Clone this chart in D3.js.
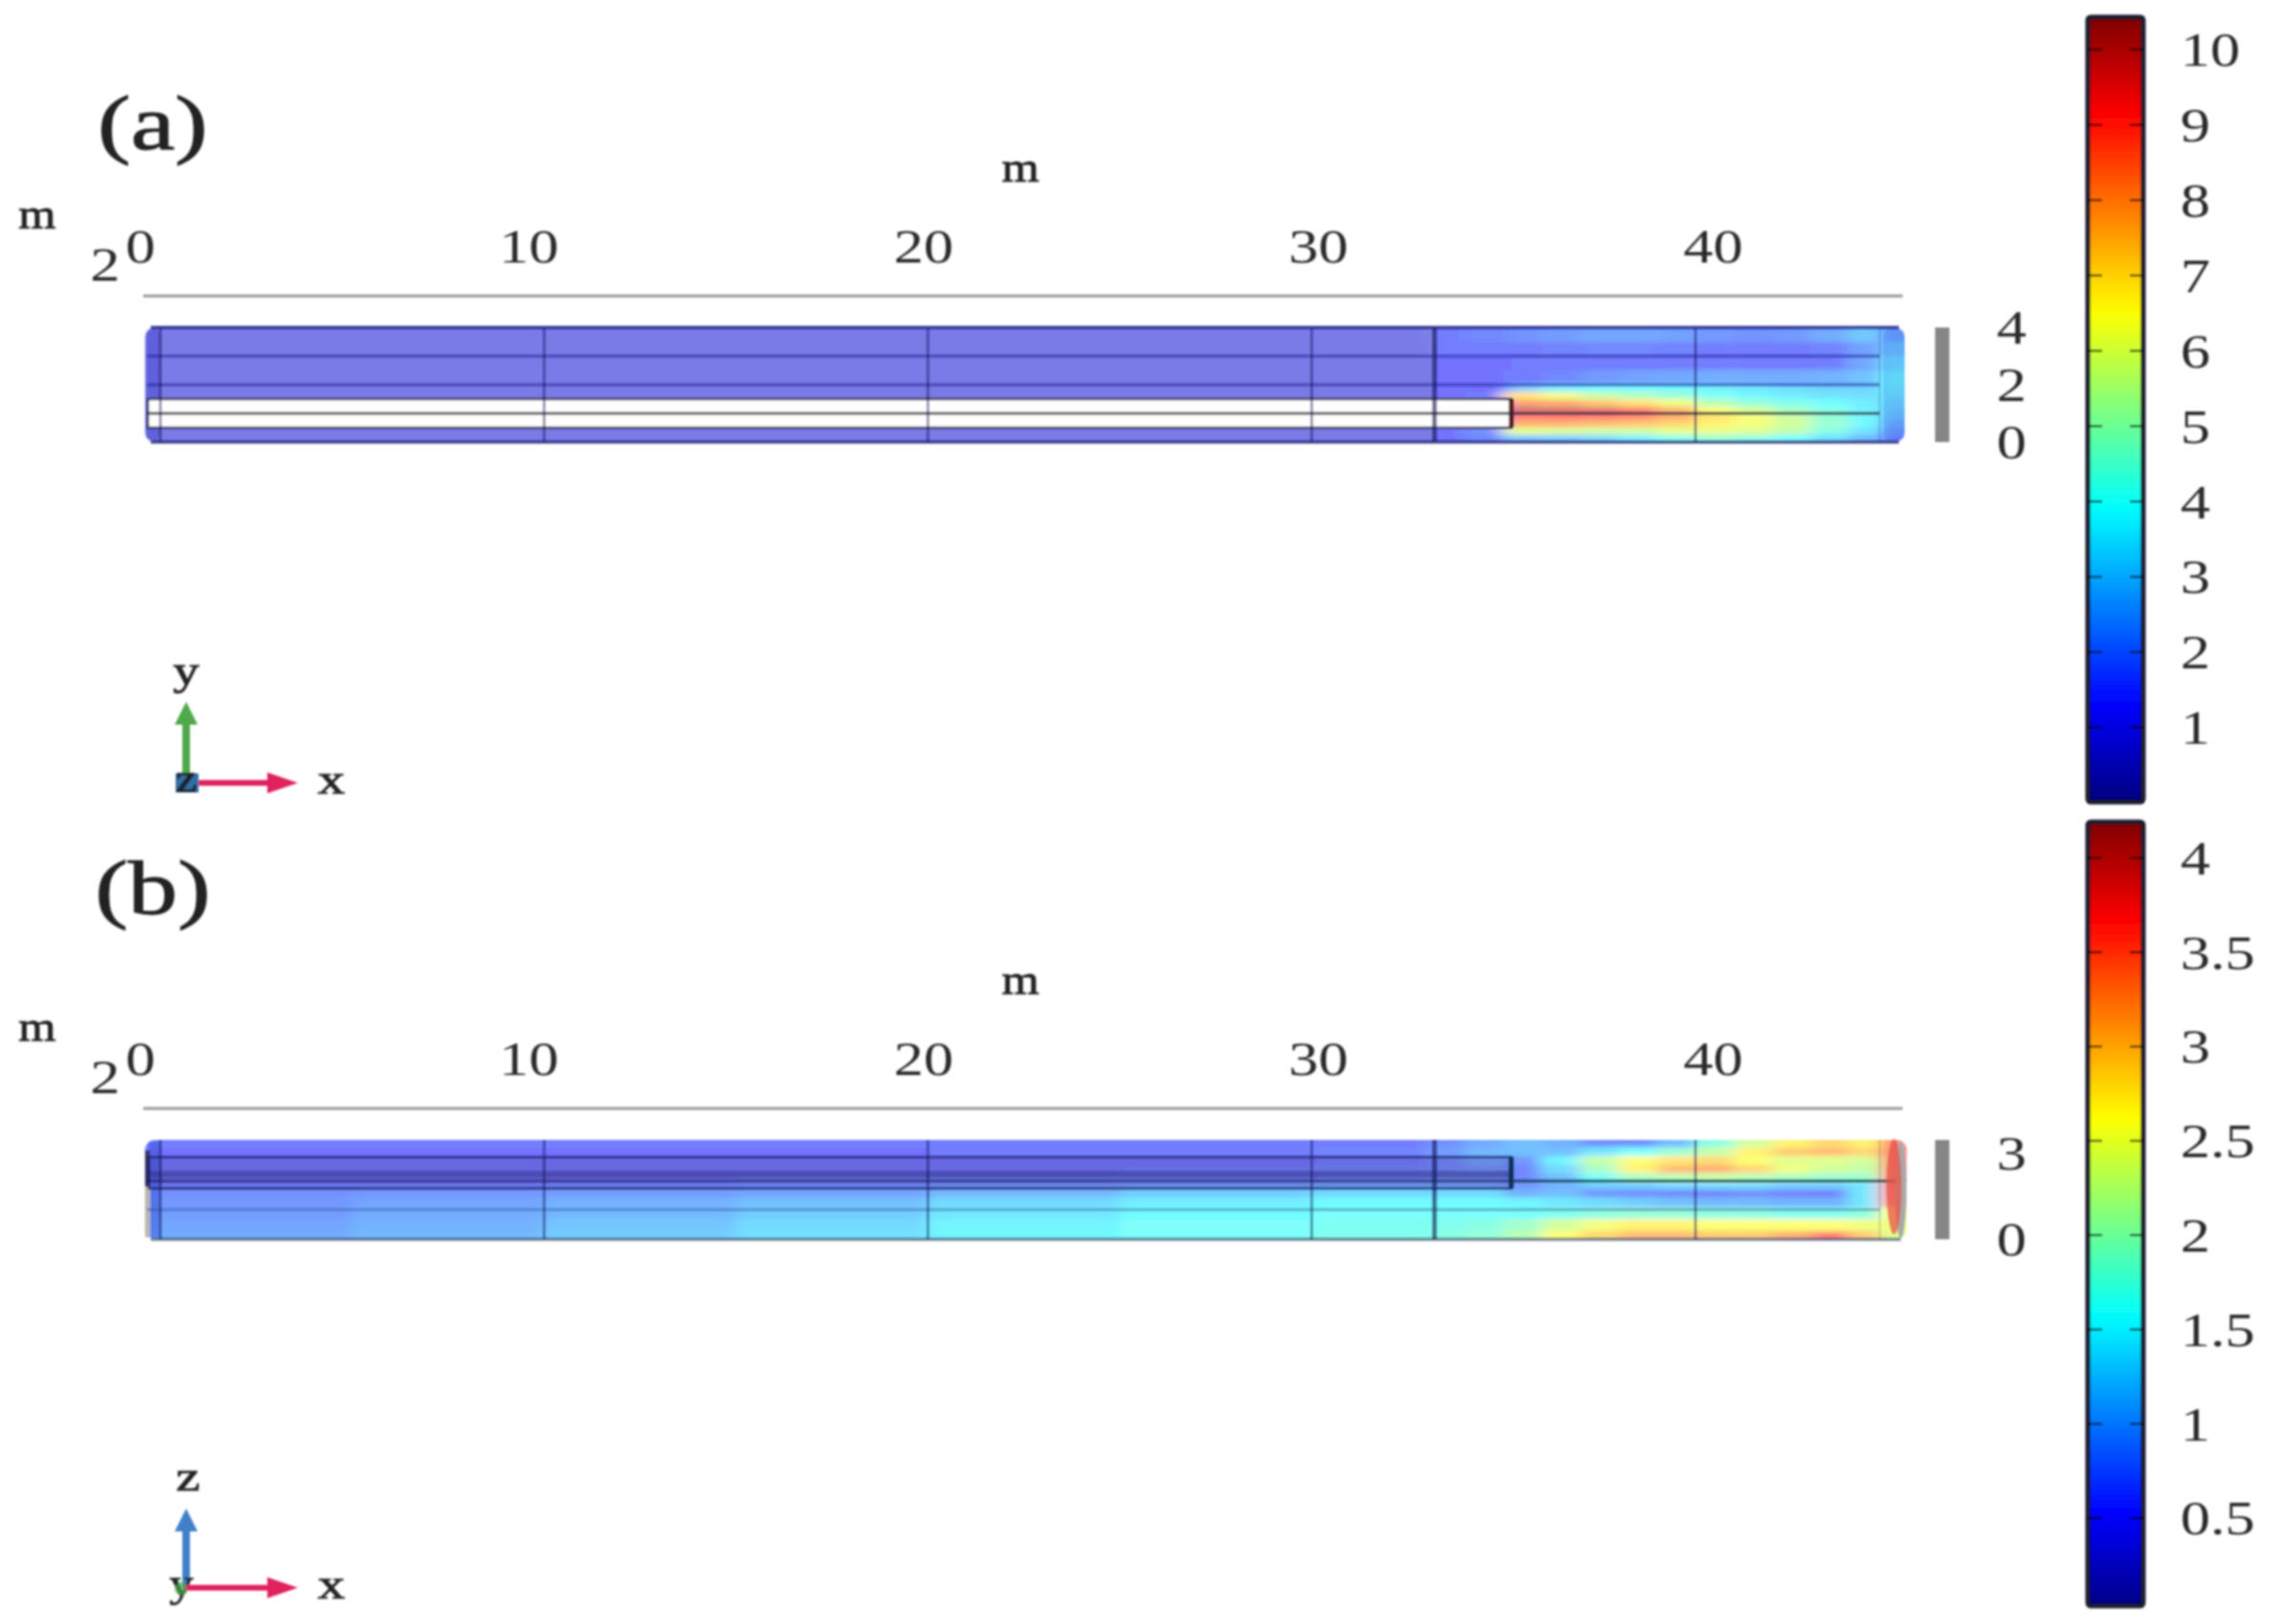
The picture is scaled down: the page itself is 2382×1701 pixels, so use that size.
<!DOCTYPE html>
<html><head><meta charset="utf-8">
<script src="https://cdn.jsdelivr.net/npm/d3@7/dist/d3.min.js"></script>
<style>html,body{margin:0;padding:0;background:#fff}svg{display:block}
text{font-family:"Liberation Serif",serif;fill:#2a2a2a}</style></head>
<body><svg id="c" width="2382" height="1701"></svg>
<script>
// ---------- data ----------
const jetStops=[[0,"#00007f"],[.125,"#0000ff"],[.375,"#00ffff"],[.625,"#ffff00"],[.875,"#ff0000"],[1,"#7f0000"]];
const distanceTicks=[0,10,20,30,40];
const gridLinesX=[0,10,20,30,33.2,40];
const aBarRange=[0.01,10.43], bBarRange=[0.035,4.19];
const aBarTicks=[1,2,3,4,5,6,7,8,9,10];
const bBarTicks=[0.5,1,1.5,2,2.5,3,3.5,4];
const aHeightTicks=[0,2,4], bHeightTicks=[0,3];
const aColEdges=[-0.4,33,34,35,35.2,36,37,38,39,40,41,42,43,44,44.8,45.5];
const aRowEdges=[4,3.5,3,2.5,2,1.75,1.5,1.25,1,0.75,0.5,0.25,0];
const aValues=[
[1.3,1.5,1.7,1.8,1.9,2.1,2.3,2.3,2.2,2.0,1.9,2.0,2.4,2.9,2.2],
[1.3,1.4,1.4,1.4,1.5,1.6,1.7,1.7,1.6,1.5,1.5,1.5,1.6,2.2,2.8],
[1.3,1.3,1.3,1.3,1.4,1.4,1.4,1.4,1.4,1.4,1.4,1.4,1.5,2.3,3.3],
[1.3,1.3,1.3,1.4,1.4,1.7,2.0,2.2,2.3,2.4,2.4,2.4,2.5,2.8,3.7],
[1.3,1.3,1.3,1.4,3.0,3.6,3.8,3.8,3.8,3.7,3.5,3.3,3.1,3.1,3.6],
[1.3,1.3,1.4,7.0,7.0,6.2,5.5,5.1,4.7,4.1,3.8,3.6,3.4,3.3,3.4],
[1.3,1.3,1.4,8.2,8.2,8.0,7.5,7.0,6.2,5.2,4.6,4.2,3.9,3.6,3.2],
[1.3,1.3,1.4,9.8,9.8,9.8,9.6,9.0,7.8,6.4,5.7,4.9,4.3,3.7,3.0],
[1.3,1.3,1.4,9.0,9.0,9.1,9.0,8.6,8.0,7.0,6.4,5.6,4.6,3.8,2.8],
[1.3,1.3,1.5,7.9,7.9,7.9,7.7,7.5,7.2,6.7,6.3,5.7,4.7,3.8,2.4],
[1.3,1.3,1.9,6.0,6.0,5.8,5.6,5.6,6.0,6.1,5.9,5.3,4.3,3.4,2.0],
[1.3,1.3,1.7,2.8,2.8,2.9,3.2,3.6,4.3,4.6,4.4,3.9,3.3,2.6,1.7]];
const aLinesLong=[3,2,1], aTubeLines=[1.5,0.5];
const bColEdges=[-0.4,5,10,15,20,25,30,33,34,35,36,37,38,39,40,41,42,43,44,44.8,45.5];
const bRowEdges=[3.47,3.2,2.9,2.6,2.3,2.0,1.75,1.45,1.1,0.7,0.3,0];
const bValues=[
[.6,.6,.6,.6,.6,.6,.6,.75,.95,1.1,1.0,.75,.75,1.1,1.8,2.3,2.7,2.9,2.7,3.6],
[.55,.55,.55,.55,.58,.6,.65,.85,1.05,1.1,1.1,1.4,1.6,1.9,2.2,2.7,3.0,3.1,2.9,3.7],
[.5,.5,.5,.5,.55,.55,.6,.7,.9,.8,1.5,2.2,2.6,2.8,2.9,2.6,2.4,2.4,2.3,3.7],
[.5,.5,.5,.5,.55,.6,.65,.7,.8,.7,1.3,2.0,2.7,3.1,3.2,2.9,2.5,2.3,2.2,3.7],
[.55,.55,.55,.6,.6,.65,.7,.8,.8,.7,1.1,1.6,2.0,2.1,2.2,2.1,2.0,1.9,1.9,3.6],
[.65,.65,.7,.75,.8,.85,.9,.9,.9,.8,1.0,1.2,1.2,1.3,1.3,1.3,1.2,1.2,1.4,3.6],
[.75,.8,.85,.9,1.05,1.2,1.3,1.3,1.3,1.0,1.1,.8,.75,.7,.65,.75,.65,.6,1.4,3.5],
[.8,.9,1,1.1,1.3,1.45,1.55,1.55,1.55,1.5,1.4,1.3,1.2,1.1,1.05,1.05,1.0,1.0,1.4,3.3],
[.85,.95,1.05,1.2,1.4,1.55,1.6,1.6,1.6,1.6,1.7,1.8,1.85,1.85,1.8,1.8,1.7,1.7,1.8,2.6],
[.9,1.0,1.15,1.3,1.5,1.6,1.65,1.7,1.75,1.95,2.3,2.55,2.7,2.7,2.6,2.6,2.6,2.6,2.5,2.5],
[.95,1.05,1.2,1.35,1.5,1.6,1.7,1.75,1.85,2.1,2.6,2.9,3.1,3.1,3.0,3.0,3.2,3.6,3.0,2.4]];
const bLinesLong=[2.03,1.03], bTubeLines=[2.87,2.27,1.77];

// ---------- helpers ----------
const svg=d3.select("#c");
const defs=svg.append("defs");
defs.append("filter").attr("id","soft").attr("filterUnits","userSpaceOnUse").attr("x",0).attr("y",0).attr("width",2382).attr("height",1701)
  .append("feGaussianBlur").attr("stdDeviation",0.9);
defs.append("filter").attr("id","heat").attr("filterUnits","userSpaceOnUse").attr("x",0).attr("y",0).attr("width",2382).attr("height",1701)
  .append("feGaussianBlur").attr("stdDeviation","8 2.2");
const root=svg.append("g").attr("filter","url(#soft)");
const x=d3.scaleLinear().domain([0,45]).range([168,1977]);
const tickX=d3.scaleLinear().domain([0,40]).range([140,1794]);

function jet(domainMax){
  return d3.scaleLinear().domain(jetStops.map(s=>s[0]*domainMax)).range(jetStops.map(s=>s[1])).clamp(true);
}
function stretch(sel,sx,anchor){
  sel.attr("x",0).attr("y",0).attr("dy",0).attr("text-anchor",anchor)
     .attr("dominant-baseline","central").attr("transform",`scale(${sx},1)`)
     .style("font-size","50px").style("font-family",'"Liberation Serif",serif').style("fill","#2a2a2a");
}
function label(txt,px,py,size,sx,extra){
  const t=root.append("text").text(txt).attr("text-anchor","middle").attr("dominant-baseline","central")
    .attr("transform",`translate(${px},${py}) scale(${sx},1)`).style("font-size",size+"px");
  if(extra){t.style("stroke","#222").style("stroke-width",extra).style("fill","#222");}
  return t;
}
function arrow(x1,y1,x2,y2,col,w,hl,hw){
  const a=Math.atan2(y2-y1,x2-x1),bx=x2-hl*Math.cos(a),by=y2-hl*Math.sin(a),nx=-Math.sin(a)*hw/2,ny=Math.cos(a)*hw/2;
  root.append("line").attr("x1",x1).attr("y1",y1).attr("x2",bx).attr("y2",by).attr("stroke",col).attr("stroke-width",w);
  root.append("path").attr("d",d3.line()([[x2,y2],[bx+nx,by+ny],[bx-nx,by-ny]])+"Z").attr("fill",col);
}
function heat(id,box,y,colEdges,rowEdges,values,vmax){
  const col=jet(vmax);
  defs.append("clipPath").attr("id",id).append("rect").attr("x",box.x0).attr("y",box.y0)
    .attr("width",box.x1-box.x0).attr("height",box.y1-box.y0).attr("rx",10);
  const cells=values.flatMap((r,i)=>r.map((v,j)=>({i,j,v})));
  const nr=values.length,nc=values[0].length;
  root.append("g").attr("clip-path",`url(#${id})`).append("g").attr("filter","url(#heat)").attr("opacity",.55)
    .selectAll("rect").data(cells).join("rect")
    .attr("x",d=>x(colEdges[d.j])-(d.j==0?40:0))
    .attr("y",d=>y(rowEdges[d.i])-(d.i==0?30:0))
    .attr("width",d=>x(colEdges[d.j+1])-x(colEdges[d.j])+(d.j==0?40:0)+(d.j==nc-1?40:0)+.5)
    .attr("height",d=>y(rowEdges[d.i+1])-y(rowEdges[d.i])+(d.i==0?30:0)+(d.i==nr-1?30:0)+.5)
    .attr("fill",d=>col(d.v));
}
function hline(v,y,x0,x1,w,c,o){
  root.append("line").attr("x1",x0).attr("x2",x1).attr("y1",y(v)).attr("y2",y(v)).attr("stroke",c).attr("stroke-width",w).attr("stroke-opacity",o);
}
function colorbar(id,range,y0,y1,vmax,ticks){
  const s=d3.scaleLinear().domain(range).range([y1,y0]);
  const col=jet(vmax);
  const g=defs.append("linearGradient").attr("id",id).attr("x1",0).attr("x2",0).attr("y1",1).attr("y2",0);
  d3.range(0,1.001,.02).forEach(t=>{const v=range[0]+t*(range[1]-range[0]);
    g.append("stop").attr("offset",t).attr("stop-color",col(v));});
  root.append("rect").attr("x",2187).attr("y",y0).attr("width",58).attr("height",y1-y0).attr("rx",3)
    .attr("fill",`url(#${id})`).attr("stroke","#1a1a2a").attr("stroke-width",5);
  ticks.forEach(t=>{[[2187,2202],[2231,2245]].forEach(e=>{
    root.append("line").attr("x1",e[0]).attr("x2",e[1]).attr("y1",s(t)).attr("y2",s(t))
      .attr("stroke","#000").attr("stroke-opacity",.6).attr("stroke-width",2.5);});});
  const ax=root.append("g").attr("transform","translate(2284,0)").call(d3.axisRight(s).tickValues(ticks).tickSize(0).tickFormat(d3.format("~g")));
  ax.select(".domain").remove();
  ax.selectAll("text").call(stretch,1.25,"start");
}
function panel(off,y,box,heightTicks){
  const ax=root.append("g").attr("transform",`translate(0,${258+off})`)
    .call(d3.axisTop(tickX).tickValues(distanceTicks).tickSize(0).tickFormat(d=>d));
  ax.select(".domain").remove();
  ax.selectAll("text").call(stretch,1.25,"middle");
  ax.selectAll("g.tick").filter(d=>d===0).attr("transform",`translate(147,0)`);
  root.append("line").attr("x1",150).attr("x2",1993).attr("y1",310+off).attr("y2",310+off).attr("stroke","#9a9a9a").attr("stroke-width",3);
  label("2",110,277+off,50,1.25);
  label("m",1069,175+off,44,1.15,.8);
  label("m",39,224+off,44,1.15,.8);
  root.append("rect").attr("x",2027).attr("y",box.y0).attr("width",15).attr("height",box.y1-box.y0).attr("fill","#868686");
  const ay=root.append("g").attr("transform","translate(2107,0)")
    .call(d3.axisRight(y).tickValues(heightTicks).tickSize(0).tickFormat(d=>d));
  ay.select(".domain").remove();
  ay.selectAll("text").call(stretch,1.25,"middle");
}
function verticals(box){
  gridLinesX.forEach(v=>{
    root.append("line").attr("x1",x(v)).attr("x2",x(v)).attr("y1",box.y0).attr("y2",box.y1)
      .attr("stroke","#141450").attr("stroke-opacity",v==33.2?.6:.55).attr("stroke-width",v==33.2?5:2.5);
  });
  root.append("line").attr("x1",x(44.8)).attr("x2",x(44.8)).attr("y1",box.y0).attr("y2",box.y1).attr("stroke","#141450").attr("stroke-opacity",.18).attr("stroke-width",2);
}

// ---------- panel (a) ----------
const ya=d3.scaleLinear().domain([0,4]).range([463,343]);
const boxA={x0:x(-0.4),x1:x(45.45),y0:343,y1:463};
panel(0,ya,boxA,aHeightTicks);
heat("clipA",boxA,ya,aColEdges,aRowEdges,aValues,10.43);
root.append("rect").attr("x",boxA.x0).attr("width",x(33.2)-boxA.x0).attr("y",343).attr("height",120).attr("rx",8).attr("fill","#9494a0").attr("fill-opacity",.24);
root.append("rect").attr("x",boxA.x0+2).attr("width",x(0)-boxA.x0-2).attr("y",345).attr("height",116).attr("rx",6).attr("fill","#3030c0").attr("fill-opacity",.35);
root.append("rect").attr("x",boxA.x0+3).attr("width",x(35.2)-boxA.x0-3).attr("y",ya(1.5)).attr("height",ya(.5)-ya(1.5)).attr("fill","#fff").attr("stroke","#3a3a55").attr("stroke-width",2.5);
aLinesLong.forEach(v=>hline(v,ya,boxA.x0+2,x(44.8),v==1?3:3.5,v==1?"#2a2a3a":"#23239a",v==1?.75:.5));
hline(4,ya,boxA.x0+6,boxA.x1-6,3.5,"#1c1c80",.8);
hline(0,ya,boxA.x0+6,boxA.x1-6,3.5,"#1c1c70",.75);
verticals(boxA);
root.append("line").attr("x1",x(35.2)).attr("x2",x(35.2)).attr("y1",ya(1.5)).attr("y2",ya(.5)).attr("stroke","#4a1a1a").attr("stroke-width",5);
root.append("rect").attr("x",x(44.9)).attr("width",boxA.x1-x(44.9)).attr("y",345).attr("height",116).attr("fill","#2050d0").attr("fill-opacity",.18).attr("rx",6);
label("(a)",160,129,80,1.3,1);
label("y",195,702,44,1.25,.8);
arrow(195,820,195,735,"#4fa84a",8,24,24);
arrow(195,820,312,820,"#e0245e",6,32,22);
root.append("rect").attr("x",184).attr("y",810).attr("width",24).attr("height",20).attr("fill","#2f6fa8");
label("z",195,816,40,1.25,1.2);
label("x",347,816,44,1.3,.8);

// ---------- panel (b) ----------
const yb=d3.scaleLinear().domain([0,3]).range([1298,1208]);
const boxB={x0:x(-0.4),x1:x(45.5),y0:1194,y1:1298};
panel(851,yb,boxB,bHeightTicks);
heat("clipB",boxB,yb,bColEdges,bRowEdges,bValues,4.19);
root.append("rect").attr("x",boxB.x0+4).attr("width",x(0)-boxB.x0-4).attr("y",1196).attr("height",100).attr("fill","#2a40c8").attr("fill-opacity",.38);
root.append("rect").attr("x",boxB.x0).attr("width",5).attr("y",1240).attr("height",56).attr("fill","#b9b9b0");
root.append("rect").attr("x",boxB.x0).attr("width",5).attr("y",1205).attr("height",38).attr("fill","#26264a").attr("fill-opacity",.8);
root.append("rect").attr("x",boxB.x0+4).attr("width",x(35.2)-boxB.x0-4).attr("y",yb(2.87)).attr("height",yb(1.77)-yb(2.87)).attr("fill","#303078").attr("fill-opacity",.2).attr("stroke","#1a1a50").attr("stroke-opacity",.7).attr("stroke-width",2.5);
bTubeLines.slice(1,2).forEach(v=>hline(v,yb,boxB.x0+4,x(35.2),7,"#20206a",.4));
hline(2.03,yb,boxB.x0+2,x(35.2),3,"#181850",.6);
hline(2.03,yb,x(35.2),boxB.x1,3,"#1b3a3a",.8);
hline(1.03,yb,boxB.x0+2,x(44.8),3,"#2a4a8a",.4);
hline(0,yb,boxB.x0+6,boxB.x1-6,3.5,"#2a3f5a",.6);
verticals(boxB);
root.append("line").attr("x1",x(35.2)).attr("x2",x(35.2)).attr("y1",yb(2.87)).attr("y2",yb(1.77)).attr("stroke","#10304a").attr("stroke-width",5);
root.append("ellipse").attr("cx",1991).attr("cy",1246).attr("rx",6).attr("ry",51).attr("fill","#a9a9a9");
root.append("ellipse").attr("cx",1984).attr("cy",1243).attr("rx",8).attr("ry",50).attr("fill","#e8564a").attr("fill-opacity",.75);
label("(b)",160,930,80,1.3,1);
label("z",197,1546,44,1.3,.8);
arrow(195,1663,195,1580,"#3f80c8",8,24,24);
label("y",190,1659,40,1.25,.8);
root.append("circle").attr("cx",190).attr("cy",1664).attr("r",7).attr("fill","#4fa84a").attr("fill-opacity",.7);
arrow(195,1663,312,1663,"#e0245e",6,32,22);
label("x",347,1659,44,1.3,.8);

// ---------- colour bars ----------
colorbar("barA",aBarRange,18,840,10.43,aBarTicks);
colorbar("barB",bBarRange,861,1682,4.19,bBarTicks);
</script></body></html>
